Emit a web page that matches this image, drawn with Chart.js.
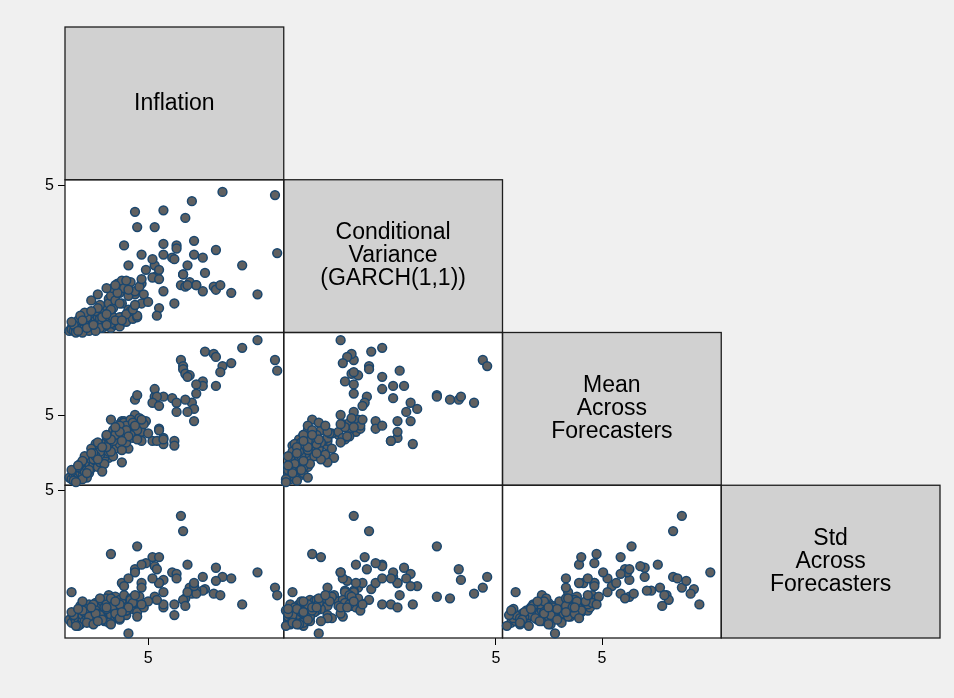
<!DOCTYPE html>
<html>
<head>
<meta charset="utf-8">
<script src="https://cdn.jsdelivr.net/npm/chart.js@4/dist/chart.umd.min.js"></script>
<style>
  html, body { margin: 0; padding: 0; background: #f0f0f0; }
  #wrap { width: 954px; height: 698px; }
</style>
</head>
<body>
<div id="wrap"><canvas id="c" width="954" height="698"></canvas></div>
<script>
// ---- data (one value per observation, same order in every array) ----
const inflation = [10.0, 9.3, 10.8, 10.9, 8.4, 6.5, 6.6, 7.0, 4.4, 4.5, 5.3, 5.7, 6.7, 7.6, 8.0, 8.1, 8.8, 6.6, 6.7, 6.9, 7.5, 6.8, 7.5, 8.1, 5.3, 8.3, 7.2, 7.2, 6.1, 5.4, 5.2, 6.3, 6.3, 7.1, 5.5, 4.9, 5.5, 7.1, 6.2, 5.7, 6.2, 5.7, 4.4, 4.7, 3.3, 5.5, 3.8, 4.1, 4.7, 5.2, 3.9, 5.4, 5.7, 6.8, 1.5, 4.1, 4.7, 3.2, 3.8,
  1.4, 1.5, 1.6, 1.7, 1.7, 1.8, 1.9, 1.9, 2.0, 2.0, 2.1, 2.1, 2.2, 2.2, 2.3, 2.3, 2.4, 2.4, 2.5, 2.5, 2.6, 2.6, 2.7, 2.7, 2.8, 2.8, 2.9, 2.9, 3.0, 3.0, 3.1, 3.1, 3.2, 3.2, 3.3, 3.3, 3.4, 3.4, 3.5, 3.5, 3.6, 3.6, 3.7, 3.7, 3.8, 3.9, 3.9, 4.0, 4.1, 4.2, 4.3, 4.4, 4.5, 4.6,
  2.5, 1.8, 1.6, 2.2, 3.0, 3.2, 2.6, 2.8, 2.1, 2.4, 3.4, 3.8, 2.3, 1.9, 1.5, 3.6, 4.0, 3.1, 2.7, 4.2, 4.8, 5.0, 4.5, 2.9, 2.0, 3.3, 2.8, 3.1, 2.6, 3.4, 3.7, 4.0, 3.5, 4.3,
  1.7, 2.2, 2.5, 2.9, 3.3, 3.7, 4.1, 2.0, 2.7, 3.1, 1.8, 3.5, 4.4, 2.4, 3.8, 4.7];
const garchVariance = [1.45, 2.4, 4.7, 2.8, 4.8, 1.75, 2.1, 4.5, 4.15, 3.65, 3.65, 4.2, 3.95, 2.15, 1.7, 1.6, 1.5, 2.1, 1.7, 1.85, 1.55, 2.4, 2.65, 2.9, 2.4, 1.75, 1.75, 1.75, 2.65, 2.05, 2.0, 3.05, 2.95, 3.2, 1.95, 2.25, 2.25, 2.75, 2.6, 2.75, 1.15, 3.1, 1.45, 1.8, 0.8, 1.0, 1.8, 2.4, 2.75, 2.6, 3.05, 0.75, 1.55, 1.75, 0.35, 0.95, 1.15, 1.3, 1.15,
  0.25, 0.3, 0.25, 0.35, 0.3, 0.4, 0.3, 0.45, 0.35, 0.5, 0.4, 0.55, 0.45, 0.3, 0.6, 0.5, 0.4, 0.65, 0.55, 0.75, 0.45, 0.6, 0.7, 0.5, 0.8, 0.65, 0.55, 0.85, 0.75, 0.95, 0.65, 1.05, 0.85, 1.15, 0.35, 1.4, 1.0, 1.65, 0.45, 1.25, 1.8, 0.5, 1.5, 0.4, 1.9, 0.6, 1.65, 0.55, 1.4, 1.85, 0.65, 1.55, 0.7, 1.7,
  0.3, 0.6, 0.45, 0.7, 0.4, 0.6, 0.9, 1.1, 0.85, 1.25, 0.55, 0.7, 0.25, 0.75, 0.55, 1.5, 1.9, 1.65, 1.45, 0.9, 1.45, 1.2, 0.75, 0.35, 0.2, 0.5, 0.35, 0.45, 0.25, 0.7, 0.7, 0.8, 0.6, 0.95,
  0.2, 0.35, 0.45, 0.7, 0.95, 1.15, 1.6, 0.6, 1.0, 0.8, 0.25, 1.75, 1.1, 0.9, 0.6, 1.95];
const meanForecast = [9.95, 9.45, 8.65, 7.95, 8.25, 8.65, 8.25, 5.85, 6.05, 6.35, 6.25, 6.25, 6.05, 9.2, 9.05, 8.85, 8.45, 8.05, 7.75, 7.65, 7.25, 7.55, 6.95, 6.95, 6.75, 7.85, 7.05, 6.45, 6.15, 6.25, 5.85, 5.85, 5.25, 5.45, 5.65, 4.65, 4.15, 4.65, 3.35, 3.55, 3.05, 3.15, 5.05, 3.95, 4.75, 4.05, 4.65, 4.35, 3.95, 3.35, 4.65, 3.35, 3.45, 5.25, 1.05, 2.85, 3.35, 2.25, 1.95,
  0.95, 0.85, 1.15, 1.05, 1.35, 0.95, 1.25, 1.55, 1.45, 1.05, 1.75, 1.35, 1.65, 1.95, 1.25, 1.85, 1.55, 2.15, 1.75, 2.35, 2.05, 2.55, 1.65, 2.25, 2.75, 1.95, 2.45, 3.05, 2.25, 2.85, 2.55, 3.35, 2.65, 3.55, 3.05, 3.75, 3.25, 4.05, 2.85, 3.85, 4.25, 3.45, 4.45, 3.15, 4.15, 3.75, 4.55, 3.25, 3.95, 4.75, 3.55, 4.25, 4.05, 4.85,
  2.15, 1.65, 0.75, 0.95, 1.85, 3.15, 3.15, 2.45, 2.35, 2.85, 2.35, 2.75, 1.45, 1.85, 1.45, 3.55, 4.35, 3.65, 3.25, 3.75, 4.45, 3.85, 3.45, 1.35, 0.85, 2.65, 2.65, 2.95, 2.35, 3.35, 4.35, 4.05, 3.75, 4.55,
  0.65, 1.25, 2.55, 2.95, 3.45, 3.95, 3.65, 2.05, 2.15, 3.75, 1.75, 4.25, 4.35, 2.55, 3.35, 4.75];
const stdForecast = [2.33, 1.28, 1.83, 1.58, 2.18, 4.18, 3.68, 1.63, 2.43, 3.18, 1.53, 2.08, 1.48, 1.78, 1.63, 2.05, 2.13, 1.43, 1.23, 1.83, 1.73, 2.58, 2.18, 2.48, 2.53, 1.58, 1.73, 1.63, 2.33, 2.43, 2.83, 2.28, 2.13, 1.88, 1.98, 2.63, 1.98, 1.98, 1.28, 1.18, 0.93, 1.28, 2.33, 2.58, 2.93, 2.83, 1.98, 2.13, 1.98, 2.13, 1.88, 1.43, 1.68, 1.68, 1.68, 0.33, 1.83, 1.58, 1.28,
  0.78, 0.68, 0.88, 0.73, 0.98, 0.83, 0.63, 1.08, 0.78, 0.93, 1.18, 0.73, 0.88, 1.03, 0.83, 1.28, 0.68, 0.98, 1.13, 0.88, 0.78, 1.33, 0.93, 1.08, 1.23, 0.83, 0.98, 1.38, 0.73, 1.13, 0.88, 1.48, 1.03, 1.23, 0.93, 1.38, 1.13, 1.28, 0.83, 1.53, 1.18, 1.03, 1.43, 0.78, 1.33, 1.08, 1.58, 0.93, 1.23, 1.48, 1.13, 1.33, 1.03, 1.53,
  1.28, 0.58, 0.93, 1.13, 1.18, 0.68, 1.08, 1.48, 1.03, 0.83, 1.38, 1.18, 0.88, 1.23, 1.03, 0.88, 1.08, 1.28, 0.98, 1.43, 1.18, 1.38, 0.88, 0.78, 1.08, 0.63, 0.93, 1.13, 0.98, 1.23, 1.28, 1.08, 0.98, 1.33,
  0.58, 0.68, 0.63, 0.78, 1.48, 0.83, 1.18, 1.38, 0.73, 1.18, 1.13, 1.38, 1.58, 1.18, 1.03, 1.28];

const variableLabels = [
  ["Inflation"],
  ["Conditional", "Variance", "(GARCH(1,1))"],
  ["Mean", "Across", "Forecasters"],
  ["Std", "Across", "Forecasters"]
];
const tickLabelsX = [[5], [5], [5], []];   // ticks under columns
const tickLabelsY = [[], [5], [5], [5]];   // ticks left of rows
const xRange = [[1.2, 11.2], [0.15, 5.15], [0.45, 10.45], [0, 1]];
const yRange = [[0, 1], [0.2, 5.2], [0.45, 10.45], [0.18, 5.18]];

// ---- build ----
const vars = [inflation, garchVariance, meanForecast, stdForecast];
const n = Math.min(...vars.map(v => v.length));
const datasets = [];
for (let r = 1; r < 4; r++) {
  for (let c = 0; c < r; c++) {
    const pts = [];
    for (let i = 0; i < n; i++) pts.push({x: vars[c][i], y: vars[r][i]});
    datasets.push({
      data: pts, xAxisID: 'x' + c, yAxisID: 'y' + r,
      pointRadius: 4.4, pointHoverRadius: 4.4, pointBorderWidth: 1.5,
      backgroundColor: '#606060', borderColor: '#1a476f', showLine: false
    });
  }
}

const tickFont = {family: '"Liberation Sans", Arial, sans-serif', size: 16};
const scales = {};
for (let c = 0; c < 4; c++) {
  const tv = tickLabelsX[c];
  scales['x' + c] = {
    type: 'linear', axis: 'x', position: 'bottom', stack: 'cols', stackWeight: 1, weight: c + 1,
    min: xRange[c][0], max: xRange[c][1],
    afterBuildTicks: s => { s.ticks = tv.map(v => ({value: v})); },
    afterFit: s => { s.height = 60; },
    border: {display: false},
    grid: {display: tv.length > 0, drawOnChartArea: false, drawTicks: true, tickLength: 7, tickColor: '#000', tickWidth: 1},
    ticks: {display: tv.length > 0, color: '#000', font: tickFont, padding: 4, maxRotation: 0, autoSkip: false}
  };
}
for (let r = 0; r < 4; r++) {
  const tv = tickLabelsY[r];
  scales['y' + r] = {
    type: 'linear', axis: 'y', position: 'left', stack: 'rows', stackWeight: 1, weight: 4 - r,
    min: yRange[r][0], max: yRange[r][1],
    afterBuildTicks: s => { s.ticks = tv.map(v => ({value: v})); },
    afterFit: s => { s.width = 65; },
    border: {display: false},
    grid: {display: tv.length > 0, drawOnChartArea: false, drawTicks: true, tickLength: 7, tickColor: '#000', tickWidth: 1},
    ticks: {display: tv.length > 0, color: '#000', font: tickFont, padding: 4, autoSkip: false}
  };
}

const matrixPanels = {
  id: 'matrixPanels',
  beforeDatasetsDraw(chart) {
    const ctx = chart.ctx;
    const cols = [0, 1, 2, 3].map(i => chart.scales['x' + i]);
    const rows = [0, 1, 2, 3].map(i => chart.scales['y' + i]);
    ctx.save();
    for (let r = 0; r < 4; r++) {
      for (let c = 0; c <= r; c++) {
        const x0 = cols[c].left, x1 = cols[c].right, y0 = rows[r].top, y1 = rows[r].bottom;
        ctx.fillStyle = (r === c) ? '#d1d1d1' : '#ffffff';
        ctx.fillRect(x0, y0, x1 - x0, y1 - y0);
        if (r === c) {
          const lines = variableLabels[r];
          ctx.fillStyle = '#000';
          ctx.font = '23px "Liberation Sans", Arial, sans-serif';
          ctx.textAlign = 'center';
          ctx.textBaseline = 'middle';
          const cx = (x0 + x1) / 2, cy = (y0 + y1) / 2;
          lines.forEach((t, i) => ctx.fillText(t, cx, cy + (i - (lines.length - 1) / 2) * 23));
        }
      }
    }
    ctx.strokeStyle = '#1e1e1e';
    ctx.lineWidth = 1.3;
    for (let r = 0; r < 4; r++) {
      for (let c = 0; c <= r; c++) {
        const x0 = cols[c].left, x1 = cols[c].right, y0 = rows[r].top, y1 = rows[r].bottom;
        ctx.strokeRect(x0, y0, x1 - x0, y1 - y0);
      }
    }
    ctx.restore();
  }
};

new Chart(document.getElementById('c'), {
  type: 'scatter',
  data: {datasets},
  options: {
    responsive: false, animation: false, devicePixelRatio: 1,
    layout: {padding: {left: 0, right: 14, top: 27, bottom: 0}},
    plugins: {legend: {display: false}, tooltip: {enabled: false}, title: {display: false}},
    clip: false,
    scales
  },
  plugins: [matrixPanels]
});
</script>
</body>
</html>
